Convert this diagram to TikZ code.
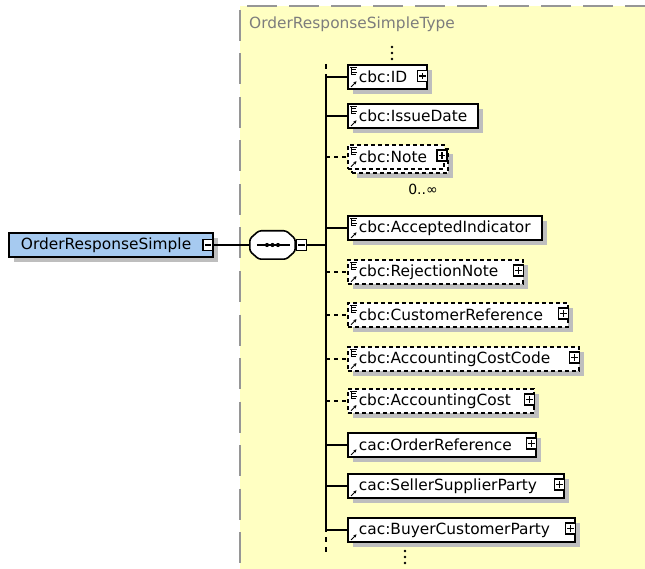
\documentclass[tikz,border=0pt]{standalone}
\usepackage{fontspec}
\setmainfont{DejaVu Sans}
\usetikzlibrary{shadows,arrows.meta}
\definecolor{bgyellow}{RGB}{255,255,194}
\definecolor{rootblue}{RGB}{166,202,240}
\definecolor{shadowgray}{RGB}{190,190,190}
\definecolor{framegray}{RGB}{150,150,150}
\definecolor{labelgray}{RGB}{125,125,125}
\tikzset{
  boxshadow/.style={general shadow={shadow xshift=5pt, shadow yshift=-5pt, fill=shadowgray}},
  elbase/.style={draw=black, line width=1.8pt, fill=white, minimum height=24pt,
    inner xsep=0pt, inner ysep=0pt, anchor=west, align=left,
    font=\fontsize{15.4}{18}\selectfont},
  elbox/.style={elbase, boxshadow},
  optbox/.style={line width=1.5pt, dash pattern=on 4pt off 3pt},
  squarebtn/.style={draw=black, line width=1.2pt, fill=white, minimum width=10pt,
    minimum height=11pt, inner sep=0pt},
  btnline/.style={line width=1.2pt},
  link/.style={line width=2pt},
  optlink/.style={line width=2pt, dash pattern=on 4pt off 4pt},
  iconline/.style={line width=0.9pt},
}
\newcommand{\elem}[5]{% name, cy, right, style, text
  \pgfmathsetmacro{\elw}{#3-347}%
  \node[#4, text width=\elw pt] (#1) at (347,#2) {\hspace*{11pt}#5};}
\newcommand{\arrowicon}[1]{%
  \draw[iconline, -{Stealth[length=3pt,width=3.2pt]}] ([shift={(4,-3)}]#1.south west) -- ([shift={(9.5,-8.5)}]#1.south west);}
\newcommand{\cbcicon}[1]{%
  \draw[iconline] ([shift={(3,3)}]#1.north west) -- ++(7,0)
    ([shift={(4,5.5)}]#1.north west) -- ++(5,0)
    ([shift={(4,8)}]#1.north west) -- ++(6,0)
    ([shift={(4,10.5)}]#1.north west) -- ++(5,0)
    ([shift={(4,3)}]#1.north west) -- ++(0,8);
  \arrowicon{#1}}
\newcommand{\cacicon}[1]{\arrowicon{#1}}
\newcommand{\minusbtn}[2]{%
  \node[squarebtn] (#1) at (#2) {};
  \draw[btnline] ([shift={(2.5,0)}]#1.west) -- ([shift={(-2.5,0)}]#1.east);}
\newcommand{\plusbtn}[2]{%
  \minusbtn{#1}{#2}%
  \draw[btnline] ([shift={(0,3)}]#1.north) -- ([shift={(0,-3)}]#1.south);}
\begin{document}
\begin{tikzpicture}[x=1pt,y=-1pt]
\useasboundingbox (0,0) rectangle (645,569);
% type area
\fill[bgyellow] (240,6) rectangle (645,569);
\draw[framegray, line width=1.6pt, dash pattern=on 30pt off 12pt] (247,6) -- (645,6);
\draw[framegray, line width=1.6pt, dash pattern=on 31pt off 12.5pt] (240,10) -- (240,569);
\node[anchor=west, text=labelgray, inner sep=0pt, font=\fontsize{15.4}{18}\selectfont] (typelabel) at (249,24) {OrderResponseSimpleType};

% spine
\coordinate (spTopEnd) at (326,64);
\coordinate (spTop) at (326,77);
\coordinate (spBot) at (326,532);
\coordinate (spBotEnd) at (326,555);
\coordinate (sj) at (326,245);
\draw[link] (spTop) -- (spBot);
\draw[link, dash pattern=on 5pt off 5pt] (spTopEnd) -- (spTop);
\draw[link, dash pattern=on 5pt off 5pt, dash phase=5pt] (spBot) -- (spBotEnd);

% root element
\node[elbox, fill=rootblue, text width=204pt] (root) at (8,245) {\hspace*{12pt}OrderResponseSimple};
\minusbtn{rootbtn}{208,245}

% sequence compositor
\node[minimum width=45pt, minimum height=28pt, inner sep=0pt] (seq) at (272.5,245) {};
\fill[shadowgray, rounded corners=2.5pt, shift={(4,4)}]
  ([shift={(9,0)}]seq.north west) -- ([shift={(-9,0)}]seq.north east) -- ([shift={(0,8)}]seq.north east)
  -- ([shift={(0,-8)}]seq.south east) -- ([shift={(-9,0)}]seq.south east) -- ([shift={(9,0)}]seq.south west)
  -- ([shift={(0,-8)}]seq.south west) -- ([shift={(0,8)}]seq.north west) -- cycle;
\draw[line width=1.6pt, fill=white, rounded corners=2.5pt]
  ([shift={(9,0)}]seq.north west) -- ([shift={(-9,0)}]seq.north east) -- ([shift={(0,8)}]seq.north east)
  -- ([shift={(0,-8)}]seq.south east) -- ([shift={(-9,0)}]seq.south east) -- ([shift={(9,0)}]seq.south west)
  -- ([shift={(0,-8)}]seq.south west) -- ([shift={(0,8)}]seq.north west) -- cycle;
\draw[line width=1.4pt] ([shift={(7,0)}]seq.west) -- ([shift={(-5,0)}]seq.east);
\foreach \dx in {-5.5,0,5.5} \fill ([shift={(\dx,0)}]seq.center) circle (2.1);
\minusbtn{seqbtn}{301.5,245}
\draw[link] (rootbtn.east) -- (seq.west);
\draw[link] (seqbtn.east) -- (sj);

% children
\elem{id}{77}{426}{elbox}{cbc:ID}
\elem{issue}{116}{477}{elbox}{cbc:IssueDate}
\node[elbox, optbox, text width=96pt] (noteback) at (351,161) {};
\elem{note}{157}{443}{elbase,optbox}{cbc:Note}
\elem{accepted}{228}{541}{elbox}{cbc:AcceptedIndicator}
\elem{rejection}{272}{522}{elbox,optbox}{cbc:RejectionNote}
\elem{custref}{315}{567}{elbox,optbox}{cbc:CustomerReference}
\elem{acccode}{359}{578}{elbox,optbox}{cbc:AccountingCostCode}
\elem{acccost}{401}{533}{elbox,optbox}{cbc:AccountingCost}
\elem{orderref}{445}{535}{elbox}{cac:OrderReference}
\elem{seller}{486}{563}{elbox}{cac:SellerSupplierParty}
\elem{buyer}{530}{574}{elbox}{cac:BuyerCustomerParty}

\foreach \n in {id,issue,note,accepted,rejection,custref,acccode,acccost} {\cbcicon{\n}}
\foreach \n in {orderref,seller,buyer} {\cacicon{\n}}

\plusbtn{idbtn}{422.5,76}
\plusbtn{notebtn}{442,155.5}
\plusbtn{rejbtn}{518.5,270.5}
\plusbtn{custbtn}{563.5,313.5}
\plusbtn{codebtn}{574.5,357.5}
\plusbtn{costbtn}{529.5,399.5}
\plusbtn{orderbtn}{531.5,443.5}
\plusbtn{sellerbtn}{559.5,484.5}
\plusbtn{buyerbtn}{570.5,528.5}

\node[font=\fontsize{14}{16}\selectfont, inner sep=0pt] (notemult) at (423,189) {0..∞};

% connectors
\foreach \n in {id,issue,accepted,orderref,seller,buyer} {\draw[link] (\n.west -| spTop) -- (\n.west);}
\foreach \n in {note,rejection,custref,acccode,acccost} {\draw[optlink] (\n.west -| spTop) -- (\n.west);}

% continuation dots
\foreach \yy in {47,53,59} \fill (392,\yy) circle (1.3);
\foreach \yy in {551,557,563} \fill (405,\yy) circle (1.3);
\end{tikzpicture}
\end{document}
